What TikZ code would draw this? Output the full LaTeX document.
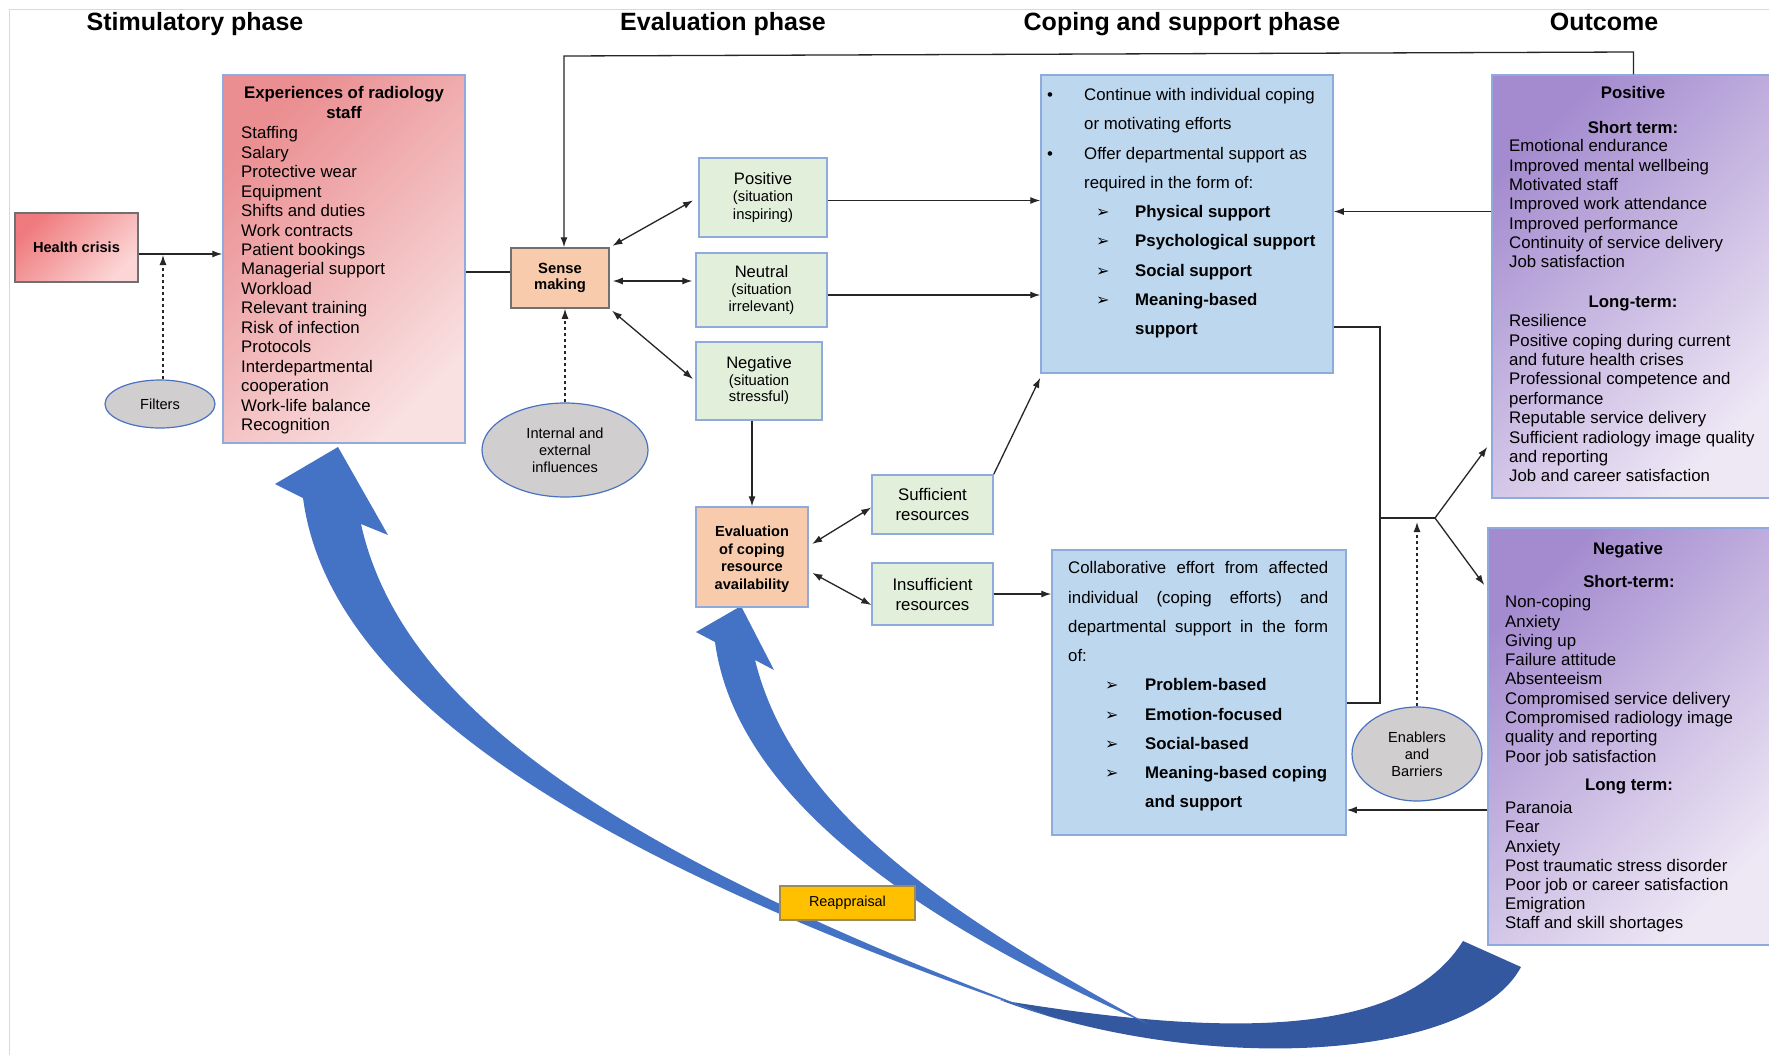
\documentclass[tikz,border=0pt]{standalone}
\usepackage{fontspec}
\setmainfont{Liberation Sans}
\newfontfamily\dingfont{DejaVu Sans}
\usetikzlibrary{arrows.meta,shapes.geometric,calc}

\definecolor{hcA}{HTML}{EF7B7E}
\definecolor{hcB}{HTML}{FCD6D6}
\definecolor{exA}{HTML}{EA8E91}
\definecolor{exB}{HTML}{F9E0E1}
\definecolor{peach}{HTML}{F8CBAD}
\definecolor{mint}{HTML}{E2EFDA}
\definecolor{sky}{HTML}{BDD7EE}
\definecolor{lilacA}{HTML}{A48BCF}
\definecolor{lilacB}{HTML}{EEE8F5}
\definecolor{stone}{HTML}{D0CECE}
\definecolor{gold}{HTML}{FFC000}
\definecolor{goldedge}{HTML}{9E8A55}
\definecolor{edgeblue}{HTML}{8FAADC}
\definecolor{edgegray}{HTML}{707070}
\definecolor{ringblue}{HTML}{4A72C0}
\definecolor{sweep}{HTML}{4472C4}
\definecolor{sweepdark}{HTML}{3358A0}
\definecolor{framegray}{HTML}{D9D9D9}

\newcommand\arrowmark{{\dingfont\fontsize{16}{16}\selectfont ➢}}
\newcommand\topstrut{\rule{0pt}{13.5pt}}

\begin{document}
\begin{tikzpicture}[x=1pt,y=-1pt,
  box/.style={draw, line width=1.5pt, inner sep=0pt, align=center},
  oval/.style={ellipse, draw=ringblue, line width=1.2pt, fill=stone, inner sep=0pt,
    align=center, font=\fontsize{14.6}{17}\selectfont},
  listtext/.style={anchor=north west, inner sep=0pt, align=left},
  headtext/.style={anchor=base, inner sep=0pt, font=\bfseries\fontsize{16.8}{19.4}\selectfont},
  conn/.style={line width=1.3pt, draw=black!85},
  arr/.style={conn, -{Latex[length=10pt,width=7pt]}},
  biarr/.style={conn, {Latex[length=10pt,width=7pt]}-{Latex[length=10pt,width=7pt]}},
  dasharr/.style={conn, dashed, -{Latex[length=10pt,width=7pt]}},
  phase/.style={anchor=base, inner sep=0pt, font=\bfseries\fontsize{25}{30}\selectfont},
]

\useasboundingbox (0,0) rectangle (1769,1055);
\fill[white] (0,0) rectangle (1769,1055);
\draw[framegray, line width=1pt] (9.5,1055) -- (9.5,9.5) -- (1769,9.5);

% ---------- reappraisal sweeps ----------
\fill[sweepdark] (1463,941) .. controls (1410,1025) and (1270,1045) .. (1000,1000)
  .. controls (1200,1075) and (1470,1062) .. (1521,967) -- cycle;
\fill[sweep] (338,447) -- (388,535) -- (361,524)
  .. controls (400,700) and (600,850) .. (1060,1020)
  .. controls (600,865) and (330,700) .. (303,498) -- (275,484) -- cycle;
\fill[sweep] (741,606) -- (774,670) -- (755,660)
  .. controls (790,800) and (920,900) .. (1150,1025)
  .. controls (900,915) and (735,790) .. (715,642) -- (696,632) -- cycle;

% ---------- phase titles ----------
\node[phase] (t1) at (195,30) {Stimulatory phase};
\node[phase] (t2) at (723,30) {Evaluation phase};
\node[phase] (t3) at (1182,30) {Coping and support phase};
\node[phase] (t4) at (1604,30) {Outcome};

% ---------- stimulatory phase ----------
\node[box, draw=edgegray, minimum width=123pt, minimum height=69pt,
  top color=hcA, bottom color=hcB, shading angle=45,
  font=\bfseries\fontsize{14.6}{17}\selectfont] (hc) at (76.5,247.5) {Health crisis};

\node[box, draw=edgeblue, minimum width=242pt, minimum height=368pt,
  top color=exA, bottom color=exB, shading angle=45] (exp) at (344,259) {};
\node[anchor=north, inner sep=0pt, align=center,
  font=\bfseries\fontsize{16.8}{20}\selectfont] (exptitle) at (344,85)
  {\topstrut Experiences of radiology\\staff};
\node[listtext, font=\fontsize{16.8}{19.47}\selectfont] (expitems) at (241,125)
  {\topstrut Staffing\\Salary\\Protective wear\\Equipment\\Shifts and duties\\
   Work contracts\\Patient bookings\\Managerial support\\Workload\\
   Relevant training\\Risk of infection\\Protocols\\Interdepartmental\\
   cooperation\\Work-life balance\\Recognition};

\node[oval, minimum width=110pt, minimum height=48pt] (filters) at (160,404) {Filters};

% ---------- evaluation phase ----------
\node[box, draw=edgegray, fill=peach, minimum width=98pt, minimum height=60pt,
  font=\bfseries\fontsize{14.8}{16}\selectfont] (sense) at (560,278) {Sense\\making};

\node[oval, minimum width=166pt, minimum height=94pt] (infl) at (565,450)
  {Internal and\\external\\influences};

\node[box, draw=edgeblue, fill=mint, minimum width=128pt, minimum height=79pt,
  font=\fontsize{14.8}{17.5}\selectfont] (pos) at (763,197.5)
  {{\fontsize{16.6}{19}\selectfont Positive}\\(situation\\inspiring)};
\node[box, draw=edgeblue, fill=mint, minimum width=131pt, minimum height=74pt,
  font=\fontsize{14.8}{17}\selectfont] (neu) at (761.5,290)
  {{\fontsize{16.6}{19}\selectfont Neutral}\\(situation\\irrelevant)};
\node[box, draw=edgeblue, fill=mint, minimum width=126pt, minimum height=78pt,
  font=\fontsize{14.8}{16.5}\selectfont] (neg) at (759,381)
  {{\fontsize{16.6}{19}\selectfont Negative}\\(situation\\stressful)};

\node[box, draw=edgeblue, fill=peach, minimum width=112pt, minimum height=100pt] (eval) at (752,557) {};
\node[inner sep=0pt, align=center, font=\bfseries\fontsize{14.6}{17.5}\selectfont]
  (evaltext) at (752,559) {Evaluation\\of coping\\resource\\availability};

\node[box, draw=edgeblue, fill=mint, minimum width=121pt, minimum height=59pt,
  font=\fontsize{16.8}{20}\selectfont] (suff) at (932.5,504.5) {Sufficient\\resources};
\node[box, draw=edgeblue, fill=mint, minimum width=121pt, minimum height=62pt,
  font=\fontsize{16.8}{20}\selectfont] (insuff) at (932.5,594) {Insufficient\\resources};

% ---------- coping and support phase ----------
\node[box, draw=edgeblue, fill=sky, minimum width=292pt, minimum height=298pt] (cope) at (1187,224) {};
\node[listtext, font=\fontsize{16.8}{29.25}\selectfont] (copetext) at (1047,87)
  {\topstrut\makebox[37pt][l]{•}Continue with individual coping\\
   \hspace*{37pt}or motivating efforts\\
   \makebox[37pt][l]{•}Offer departmental support as\\
   \hspace*{37pt}required in the form of:\\
   \hspace*{49pt}\makebox[39pt][l]{\arrowmark}\textbf{Physical support}\\
   \hspace*{49pt}\makebox[39pt][l]{\arrowmark}\textbf{Psychological support}\\
   \hspace*{49pt}\makebox[39pt][l]{\arrowmark}\textbf{Social support}\\
   \hspace*{49pt}\makebox[39pt][l]{\arrowmark}\textbf{Meaning-based}\\
   \hspace*{88pt}\textbf{support}};

\node[box, draw=edgeblue, fill=sky, minimum width=294pt, minimum height=285pt] (collab) at (1199,692.5) {};
\node[anchor=north west, inner sep=0pt, text width=260pt, align=justify,
  font=\fontsize{16.8}{29.3}\selectfont] (collabtext) at (1068,560)
  {\topstrut Collaborative effort from affected\linebreak
   individual (coping efforts) and\linebreak
   departmental support in the form\linebreak of:};
\node[listtext, font=\fontsize{16.8}{29.3}\selectfont] (collabitems) at (1105,677)
  {\topstrut\makebox[40pt][l]{\arrowmark}\textbf{Problem-based}\\
   \makebox[40pt][l]{\arrowmark}\textbf{Emotion-focused}\\
   \makebox[40pt][l]{\arrowmark}\textbf{Social-based}\\
   \makebox[40pt][l]{\arrowmark}\textbf{Meaning-based coping}\\
   \hspace*{40pt}\textbf{and support}};

\node[oval, minimum width=130pt, minimum height=94pt] (enab) at (1417,754)
  {Enablers\\and\\Barriers};

% ---------- outcome ----------
\node[box, draw=edgeblue, minimum width=283pt, minimum height=423pt,
  top color=lilacA, bottom color=lilacB, shading angle=45] (posout) at (1633.5,286.5) {};
\node[headtext] (posh) at (1633,98.5) {Positive};
\node[headtext] (posst) at (1633,133.5) {Short term:};
\node[listtext, font=\fontsize{16.8}{19.35}\selectfont] (posshort) at (1509,138)
  {\topstrut Emotional endurance\\Improved mental wellbeing\\Motivated staff\\
   Improved work attendance\\Improved performance\\Continuity of service delivery\\
   Job satisfaction};
\node[headtext] (poslt) at (1633,307.5) {Long-term:};
\node[listtext, font=\fontsize{16.8}{19.4}\selectfont] (poslong) at (1509,313)
  {\topstrut Resilience\\Positive coping during current\\and future health crises\\
   Professional competence and\\performance\\Reputable service delivery\\
   Sufficient radiology image quality\\and reporting\\Job and career satisfaction};

\node[box, draw=edgeblue, minimum width=287pt, minimum height=417pt,
  top color=lilacA, bottom color=lilacB, shading angle=45] (negout) at (1631.5,736.5) {};
\node[headtext] (negh) at (1628,554.5) {Negative};
\node[headtext] (negst) at (1629,587.5) {Short-term:};
\node[listtext, font=\fontsize{16.8}{19.3}\selectfont] (negshort) at (1505,594)
  {\topstrut Non-coping\\Anxiety\\Giving up\\Failure attitude\\Absenteeism\\
   Compromised service delivery\\Compromised radiology image\\
   quality and reporting\\Poor job satisfaction};
\node[headtext] (neglt) at (1629,790.5) {Long term:};
\node[listtext, font=\fontsize{16.8}{19.2}\selectfont] (neglong) at (1505,800)
  {\topstrut Paranoia\\Fear\\Anxiety\\Post traumatic stress disorder\\
   Poor job or career satisfaction\\Emigration\\Staff and skill shortages};

\node[box, draw=goldedge, line width=1.2pt, fill=gold, minimum width=135pt, minimum height=34pt,
  font=\fontsize{14.4}{16}\selectfont] (reap) at (847.5,903) {Reappraisal};

% ---------- connectors ----------
\coordinate (hcout) at ([yshift=-6.5pt]hc.east);
\draw[arr] (hcout) -- (hcout -| exp.west);
\coordinate (filtup) at ([xshift=3pt]filters.north);
\draw[dasharr, shorten >=1pt] (filtup) -- (filtup |- hcout);

\draw[conn] ([yshift=-13pt]exp.east) -- ([yshift=-13pt]exp.east -| sense.west);

\coordinate (fbR) at (1633.5,52);
\coordinate (fbL) at (564,56);
\draw[arr] (posout.north) -- (fbR) -- (fbL) -- (fbL |- sense.north);

\draw[biarr, shorten <=3pt, shorten >=6pt] (sense.north east) -- (pos.west);
\draw[biarr, shorten <=3pt, shorten >=3pt] ([yshift=-3pt]sense.east) -- ([yshift=-3pt]sense.east -| neu.west);
\draw[biarr, shorten <=3pt, shorten >=3pt] (sense.south east) -- (neg.west);
\draw[dasharr] (infl.north) -- (infl.north |- sense.south);

\draw[arr] (eval.north |- neg.south) -- (eval.north);
\draw[biarr, shorten <=4pt] ([yshift=11pt]eval.east) -- ([yshift=-3pt]suff.west);
\draw[biarr, shorten <=4pt] ([yshift=-14pt]eval.east) -- ([yshift=-11pt]insuff.west);

\draw[arr] ([yshift=-3pt]pos.east) -- ([yshift=-3pt]pos.east -| cope.west);
\draw[arr] ([yshift=-5pt]neu.east) -- ([yshift=-5pt]neu.east -| cope.west);
\draw[arr] (suff.north east) -- ([yshift=-4pt]cope.south west);
\draw[arr] (insuff.east) -- (insuff.east -| collab.west);

\draw[arr] ([yshift=75pt]posout.west) -- ([yshift=75pt]posout.west -| cope.east);
\draw[arr] ([yshift=-73.5pt]negout.west) -- ([yshift=-73.5pt]negout.west -| collab.east);

\coordinate (j1) at (1380,327);
\coordinate (j2) at (1380,703);
\coordinate (j3) at (1380,518);
\coordinate (j4) at (1435,518);
\coordinate (pa) at ($(posout.west)+(-4,160.5)$);
\coordinate (na) at ($(negout.west)+(-3,-151.5)$);
\draw[conn] (j1 -| cope.east) -- (j1) -- (j2) -- (j2 -| collab.east);
\draw[conn] (j3) -- (j4);
\draw[arr] (j4) -- (pa);
\draw[arr] (j4) -- (na);
\draw[dasharr, shorten >=4pt] (enab.north) -- (enab.north |- j3);

\end{tikzpicture}
\end{document}
